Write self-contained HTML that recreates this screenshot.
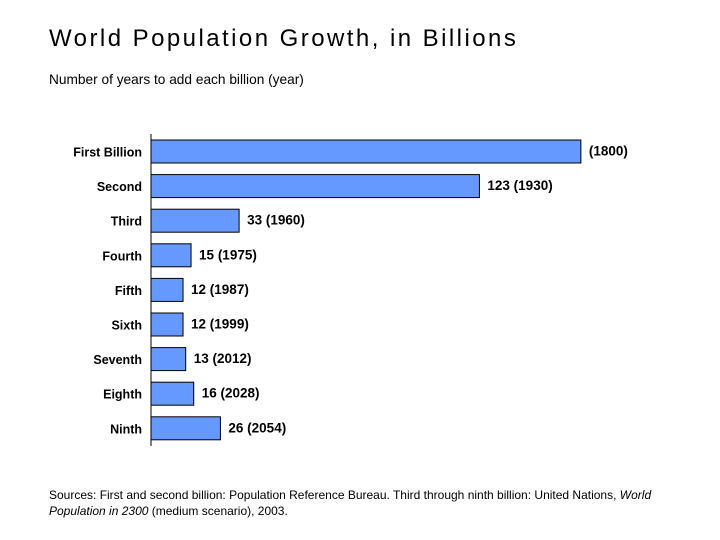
<!DOCTYPE html>
<html><head><meta charset="utf-8"><style>
body{margin:0;background:#fff;font-family:"Liberation Sans",sans-serif;}
#wrap{position:relative;width:720px;height:540px;overflow:hidden;}
.t{position:absolute;white-space:nowrap;}
</style></head><body>
<div id="wrap">
<div class="t" style="left:49px;top:25px;font-size:24px;letter-spacing:2.45px;color:#000;">World Population Growth, in Billions</div>
<div class="t" style="left:49px;top:72px;font-size:13.7px;">Number of years to add each billion (year)</div>
<svg id="chart" width="720" height="540" style="position:absolute;left:0;top:0;"></svg>
<div class="t" style="left:49px;top:487px;font-size:12px;line-height:16px;">Sources: First and second billion: Population Reference Bureau. Third through ninth billion: United Nations, <i>World</i><br><i>Population in 2300</i> (medium scenario), 2003.</div>
</div>
<script>
const categories=["First Billion","Second","Third","Fourth","Fifth","Sixth","Seventh","Eighth","Ninth"];
const values=[161,123,33,15,12,12,13,16,26];
const labels=["(1800)","123 (1930)","33 (1960)","15 (1975)","12 (1987)","12 (1999)","13 (2012)","16 (2028)","26 (2054)"];
const svg=document.getElementById('chart');
const NS='http://www.w3.org/2000/svg';
const x0=151,pxPer=2.67,top0=140,step=34.6,bh=23;
const xs=v=>x0+v*pxPer;
const ys=i=>top0+i*step;
function mk(t,a){const e=document.createElementNS(NS,t);for(const k in a)e.setAttribute(k,a[k]);svg.appendChild(e);return e;}
categories.forEach((c,i)=>{
  const r=mk('rect',{x:x0,y:ys(i),width:xs(values[i])-x0,height:bh,fill:'#6699ff',stroke:'#000','stroke-width':1});
  
  
  const l=mk('text',{x:142,y:ys(i)+bh/2+5,'text-anchor':'end','font-size':12.5,'font-weight':'bold','font-family':'Liberation Sans, sans-serif'});
  l.textContent=c;
  
  
  const v=mk('text',{x:xs(values[i])+8,y:ys(i)+bh/2+4,'font-size':13.5,'font-weight':'bold','font-family':'Liberation Sans, sans-serif'});
  v.textContent=labels[i];
  
  
});
const ax=mk('line',{x1:x0,y1:134,x2:x0,y2:446,stroke:'#000','stroke-width':1});


</script>
</body></html>
